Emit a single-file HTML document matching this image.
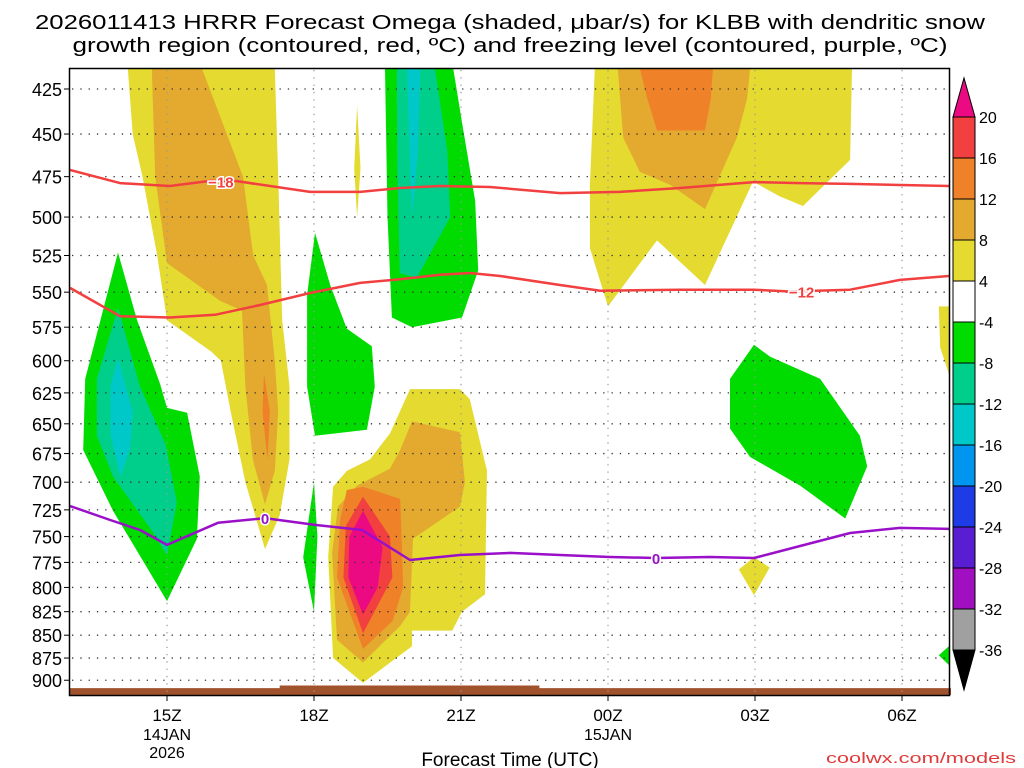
<!DOCTYPE html>
<html><head><meta charset="utf-8"><style>
html,body{margin:0;padding:0;background:#fff;}
svg{display:block;font-family:"Liberation Sans","DejaVu Sans",sans-serif;}
</style></head><body>
<svg id="chart" width="1024" height="768" viewBox="0 0 1024 768" xmlns="http://www.w3.org/2000/svg">
<g>
<text x="510" y="29" text-anchor="middle" font-size="20" textLength="950" lengthAdjust="spacingAndGlyphs">2026011413 HRRR Forecast Omega (shaded, μbar/s) for KLBB with dendritic snow</text>
<text x="510" y="52" text-anchor="middle" font-size="20" textLength="875" lengthAdjust="spacingAndGlyphs">growth region (contoured, red, ºC) and freezing level (contoured, purple, ºC)</text>
</g>
<g id="fills"></g>
<g id="terrain"></g>
<g id="grid"></g>
<g id="lines"></g>
<rect x="69.5" y="68.5" width="880" height="627" fill="none" stroke="#000" stroke-width="1.5"/>
<g id="yaxis"></g>
<g id="xaxis"></g>
<text x="510" y="766" text-anchor="middle" font-size="19">Forecast Time (UTC)</text>
<text x="1016" y="763" text-anchor="end" font-size="15" fill="#e03a3a" textLength="190" lengthAdjust="spacingAndGlyphs">coolwx.com/models</text>
<g id="cbar"></g>
</svg>
<script>
// ---- data ----
const pressureTicks = [425,450,475,500,525,550,575,600,625,650,675,700,725,750,775,800,825,850,875,900];
const timeTickHours = [15,18,21,24,27,30];
const timeTickLabels = ["15Z","18Z","21Z","00Z","03Z","06Z"];
const cbarLevels = [20,16,12,8,4,-4,-8,-12,-16,-20,-24,-28,-32,-36];
const cbarColors = ["#f23f3f","#ef8229","#e3aa2f","#e4da30","#ffffff","#00dc00","#00cf8c","#00c8c8","#0096f0","#1e3ce6","#5a1ed2","#a010c0","#a0a0a0"];
const C = {y:"#e4da30",g8:"#e3aa2f",o:"#ef8229",r:"#f23f3f",m:"#ec0a82",gr:"#00dc00",t:"#00cf8c",c:"#00c8c8"};
const regionColors = [C.y,C.g8,C.o,C.y,C.gr,C.t,C.c,C.gr,C.gr,C.gr,C.t,C.c,C.y,C.g8,C.o,C.r,C.m,C.y,C.g8,C.o,C.gr,C.y,C.y,C.gr];
const regionPoints = [
 [[14.2,414],[17.2,414],[17.27,475],[17.35,570],[17.5,620],[17.5,680],[17.3,730],[17.0,762],[16.6,700],[16.3,640],[16.1,600],[15.9,593],[15.0,570],[14.8,525],[14.5,475],[14.3,450]],
 [[14.69,414],[15.71,414],[16.55,475],[16.76,525],[17.04,545],[17.2,600],[17.27,640],[17.2,690],[17.0,720],[16.75,680],[16.6,620],[16.53,563],[16.08,556],[15.0,530],[14.76,475]],
 [[16.98,610],[17.1,640],[17.05,680],[16.95,640]],
 [[18.88,434],[18.95,470],[18.88,500],[18.82,470]],
 [[14.0,523],[14.39,570],[14.86,618],[15.0,637],[15.41,641],[15.67,695],[15.61,752],[15.0,814],[13.9,726],[13.29,672],[13.33,614]],
 [[14.0,561],[14.45,620],[14.97,667],[15.2,718],[15.0,768],[14.7,745],[13.9,695],[13.57,660],[13.57,614]],
 [[14.0,598],[14.3,640],[14.25,670],[14.05,695],[13.85,660],[13.85,620]],
 [[18.02,510],[18.33,545],[18.67,576],[19.18,589],[19.24,620],[19.08,655],[18.02,660],[17.86,620],[17.86,552]],
 [[18.0,700],[18.07,750],[18.0,825],[17.78,770]],
 [[19.45,414],[20.84,414],[21.0,440],[21.29,490],[21.35,535],[21.02,568],[20.0,575],[19.59,568],[19.5,500]],
 [[19.69,414],[20.47,414],[20.72,460],[20.78,500],[20.1,540],[19.75,537],[19.7,470]],
 [[19.9,414],[20.17,414],[20.12,460],[20.0,500],[19.95,460]],
 [[19.96,622],[20.98,622],[21.18,630],[21.53,690],[21.49,807],[21.02,825],[20.82,845],[20.0,845],[20.0,862],[19.0,903],[18.39,875],[18.29,770],[18.39,704],[18.67,690],[19.14,680],[19.55,658]],
 [[20.0,648],[20.98,657],[21.08,700],[20.98,722],[20.02,752],[19.96,825],[19.76,840],[19.0,880],[18.47,855],[18.37,765],[18.49,722],[18.88,703],[19.55,688],[19.76,672]],
 [[19.0,704],[19.76,715],[19.82,800],[19.6,835],[19.0,865],[18.47,790],[18.53,735],[18.67,707]],
 [[19.0,713],[19.55,750],[19.6,790],[19.0,848],[18.6,790],[18.65,740]],
 [[19.0,726],[19.4,760],[19.3,800],[19.0,828],[18.7,790],[18.72,750]],
 [[23.73,414],[28.98,414],[28.94,465],[27.98,493],[27.5,487],[26.96,478],[25.98,545],[25.0,515],[24.0,560],[23.63,520],[23.63,480]],
 [[24.2,414],[26.9,414],[26.84,430],[26.63,452],[25.98,495],[25.27,480],[24.65,472],[24.31,452]],
 [[24.65,414],[26.14,414],[26.1,430],[25.98,448],[25.0,448],[24.8,430]],
 [[26.98,588],[27.31,597],[28.33,614],[29.14,660],[29.29,686],[28.84,733],[27.92,703],[26.9,678],[26.49,654],[26.49,614]],
 [[26.98,770],[27.3,780],[26.98,808],[26.67,782]],
 [[30.75,560],[31.0,560],[31.0,615],[30.78,590]],
 [[31.0,860],[31.0,885],[30.75,872]]
];
const surfHours = [13,17.3,17.3,22.6,22.6,31];
const surfPres = [909,909,906,906,909,909];
const m18Hours = [13.02,14.04,15.06,15.88,16.39,17.92,18.94,19.76,20.57,21.59,23.02,24.24,25.47,26.98,27.92,28.94,30.96];
const m18Pres = [471,478.9,480.7,477.6,477.6,484.3,484.3,481.9,480.7,481.3,485,484.3,481.9,478.3,478.9,479.4,480.7];
const m12Hours = [13.02,14.04,15.06,15.98,16.9,17.92,18.94,19.76,20.57,21.18,21.8,23.02,23.84,25.47,26.98,27.71,28.94,29.96,30.96];
const m12Pres = [547,567,568,566,559,550.6,543.6,541,538,536.8,538.8,545,549,548.3,548.3,549.5,548.3,541.5,538.8];
const frzHours = [13.02,13.84,14.45,15.0,16.04,17.0,18.02,18.98,19.96,20.98,22.0,23.02,24.04,24.98,26.08,26.98,27.92,28.94,29.96,30.96];
const frzPres = [721.5,734.4,743.8,758,737,732.6,739,743.8,772.6,767.7,765.7,767.7,769.7,770.7,769.7,770.7,759,746.6,741.8,742.7];
// ---- axes ----
const X = h => 69 + (h - 13) * 49;
const Y = p => 89 + 788 * Math.log(p / 425);
const NS = "http://www.w3.org/2000/svg";
function mk(tag, parent, attrs){const e=document.createElementNS(NS,tag);for(const k in attrs)e.setAttribute(k,attrs[k]);parent.appendChild(e);return e;}
const clipDefs = mk('defs', document.getElementById('chart'), {});
const cp = mk('clipPath', clipDefs, {id:'plotclip'});
mk('rect', cp, {x:70,y:69,width:879,height:626});
const fills = document.getElementById('fills');
fills.setAttribute('clip-path','url(#plotclip)');
regionPoints.forEach((pts,i)=>{
  const e = mk('polygon', fills, {points: pts.map(q=>X(q[0]).toFixed(1)+','+Y(q[1]).toFixed(1)).join(' '), fill: regionColors[i]});
  
  
});
const ter = document.getElementById('terrain');
let tp = surfHours.map((h,i)=>X(h).toFixed(1)+','+Y(surfPres[i]).toFixed(1));
tp.push(X(31)+','+695, X(13)+','+695);
const te = mk('polygon', ter, {points: tp.join(' '), fill:'#a0522d'});


const grid = document.getElementById('grid');
pressureTicks.forEach(p=>{
  const l = mk('line', grid, {x1:72,x2:948,y1:Y(p),y2:Y(p),stroke:'#333','stroke-width':1.3,'stroke-dasharray':'1.3,7'});
  
  
});
timeTickHours.forEach(h=>{
  const l = mk('line', grid, {x1:X(h),x2:X(h),y1:70,y2:694,stroke:'#999','stroke-width':1.2,'stroke-dasharray':'1.3,6'});
  
  
});
const lines = document.getElementById('lines');
lines.setAttribute('clip-path','url(#plotclip)');
function poly(hs, ps, col, name){
  const e = mk('polyline', lines, {points: hs.map((h,i)=>X(h).toFixed(1)+','+Y(ps[i]).toFixed(1)).join(' '), fill:'none', stroke:col, 'stroke-width':2.5, 'stroke-linejoin':'round'});
  
  
}
poly(m18Hours, m18Pres, '#f23f3f', 'contour-minus18');
poly(m12Hours, m12Pres, '#f23f3f', 'contour-minus12');
poly(frzHours, frzPres, '#9a10c8', 'freezing-level');
function lab(h,p,t,col,name){
  const e = mk('text', lines, {x:X(h),y:Y(p)+6,'text-anchor':'middle','font-size':15,'font-weight':'bold',fill:col,stroke:'#fff','stroke-width':3,'paint-order':'stroke'});
  e.textContent = t;
  
  
}
lab(16.1,478,'−18','#f23f3f','label-minus18');
lab(27.95,549.5,'−12','#f23f3f','label-minus12');
lab(17.0,732.6,'0','#9a10c8','label-freezing-0');
lab(24.98,770.7,'0','#9a10c8','label-freezing-0b');
const ya = document.getElementById('yaxis');
pressureTicks.forEach(p=>{
  const t = mk('text', ya, {x:62,y:Y(p)+7,'text-anchor':'end','font-size':18});
  t.textContent = p;
  
  
  mk('line', ya, {x1:64,x2:70,y1:Y(p),y2:Y(p),stroke:'#000'});
});
const xa = document.getElementById('xaxis');
timeTickHours.forEach((h,i)=>{
  mk('line', xa, {x1:X(h),x2:X(h),y1:695,y2:701,stroke:'#000'});
  const t = mk('text', xa, {x:X(h),y:721,'text-anchor':'middle','font-size':17});
  t.textContent = timeTickLabels[i];
  
  
});
[[15,'14JAN',740],[15,'2026',758],[24,'15JAN',740]].forEach(d=>{
  const t = mk('text', xa, {x:X(d[0]),y:d[2],'text-anchor':'middle','font-size':16});
  t.textContent = d[1];
  
  
});
const cb = document.getElementById('cbar');
const cbY = i => 117 + i * 41;
const cx0 = 953, cx1 = 975;
const up = mk('polygon', cb, {points:`${cx0},117 ${cx1},117 ${(cx0+cx1)/2},78`, fill:'#ec0a82', stroke:'#000'});


cbarColors.forEach((c,i)=>{
  const r = mk('rect', cb, {x:cx0,y:cbY(i),width:cx1-cx0,height:41,fill:c,stroke:'#000'});
  
  
});
const dn = mk('polygon', cb, {points:`${cx0},${cbY(13)} ${cx1},${cbY(13)} ${(cx0+cx1)/2},690`, fill:'#000', stroke:'#000'});


cbarLevels.forEach((v,i)=>{
  const t = mk('text', cb, {x:979,y:cbY(i)+6,'font-size':16});
  t.textContent = v;
  
  
});
</script>
</body></html>
